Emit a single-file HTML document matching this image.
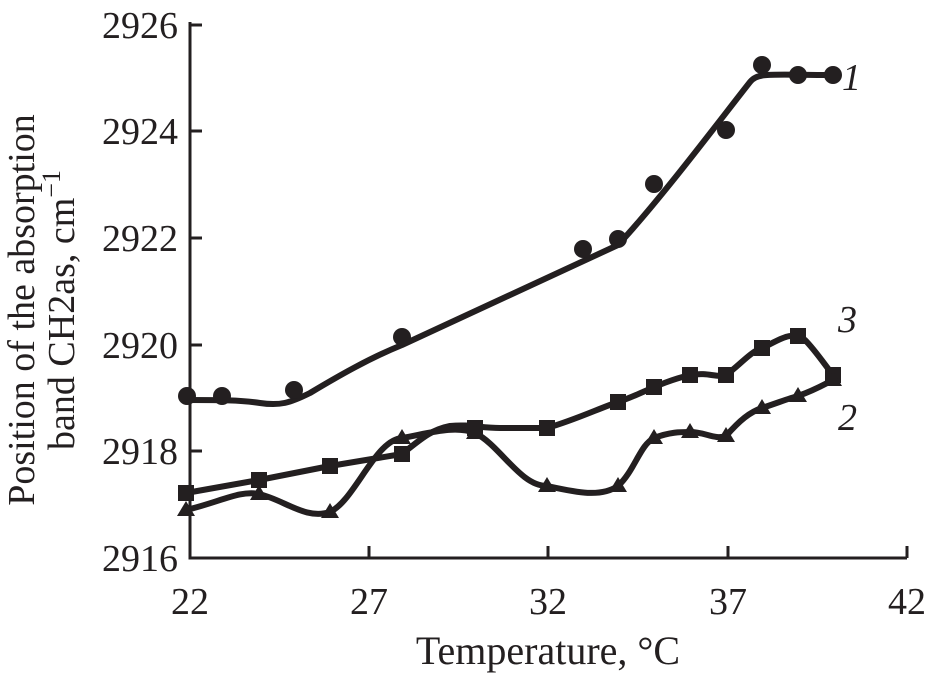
<!DOCTYPE html>
<html><head><style>body{margin:0;background:#fff}</style></head><body>
<svg width="930" height="674" xmlns="http://www.w3.org/2000/svg" font-family="Liberation Serif, serif" fill="#231f20">
<g stroke="#231f20" stroke-width="3" fill="none">
<path d="M190 22 V558 H907"/>
<path d="M190 451h12M190 345h12M190 238h12M190 131h12M190 25h12"/>
<path d="M369 558v-12M548 558v-12M728 558v-12M907 558v-12"/>
</g>
<g font-size="38" text-anchor="end">
<text x="178" y="571">2916</text><text x="178" y="464">2918</text><text x="178" y="358">2920</text>
<text x="178" y="251">2922</text><text x="178" y="144">2924</text><text x="178" y="38">2926</text>
</g>
<g font-size="38" text-anchor="middle">
<text x="190" y="614">22</text><text x="369" y="614">27</text><text x="548" y="614">32</text>
<text x="728" y="614">37</text><text x="907" y="614">42</text>
<text x="548" y="664" font-size="40">Temperature, °C</text>
</g>
<g font-size="38" text-anchor="middle">
<text transform="translate(34,310) rotate(-90)">Position of the absorption</text>
<text transform="translate(74,310) rotate(-90)">band CH2as, cm<tspan dy="-14" font-size="26">−1</tspan></text>
</g>
<g font-size="38" font-style="italic">
<text x="842" y="90">1</text><text x="838" y="332">3</text><text x="838" y="430">2</text>
</g>
<g stroke="#231f20" stroke-width="6" fill="none" stroke-linejoin="round">
<path d="M188 400 C220 400 240 400 260 403 C280 406 290 403 310 393 C340 375 370 358 402 345 L618 245 C660 200 720 120 750 82 C758 72 770 75 833 75"/>
<path d="M186 493 L259 480 L330 466 L402 454 C420 440 430 430 450 426 C470 424 480 428 500 428 L547 428 C575 420 600 408 618 402 C640 395 660 382 690 375 C710 372 715 378 726 375 C740 365 750 352 762 348 C780 340 790 330 805 340 C815 350 825 365 833 375"/>
<path d="M186 510 C220 502 240 490 259 494 C285 500 305 520 330 512 C355 500 375 440 402 438 C430 433 455 425 475 433 C500 445 520 486 547 486 C575 492 600 498 618 486 C635 470 640 445 654 438 C670 432 680 432 690 432 C705 432 715 440 726 436 C740 420 750 412 762 408 C780 402 790 398 798 396 C815 390 825 384 833 380"/>
</g>
<g>
<circle cx="187" cy="396" r="9"/><circle cx="222" cy="396" r="9"/><circle cx="294" cy="390" r="9"/><circle cx="402" cy="337" r="9"/><circle cx="583" cy="249" r="9"/><circle cx="618" cy="239" r="9"/><circle cx="654" cy="184" r="9"/><circle cx="726" cy="130" r="9"/><circle cx="762" cy="65" r="9"/><circle cx="798" cy="75" r="9"/><circle cx="833" cy="75" r="9"/>
</g>
<g>
<rect x="178" y="485" width="16" height="16"/><rect x="251" y="472" width="16" height="16"/><rect x="322" y="458" width="16" height="16"/><rect x="394" y="446" width="16" height="16"/><rect x="467" y="420" width="16" height="16"/><rect x="539" y="420" width="16" height="16"/><rect x="610" y="394" width="16" height="16"/><rect x="646" y="379" width="16" height="16"/><rect x="682" y="367" width="16" height="16"/><rect x="718" y="367" width="16" height="16"/><rect x="754" y="340" width="16" height="16"/><rect x="790" y="328" width="16" height="16"/><rect x="825" y="367" width="16" height="16"/>
</g>
<g>
<path d="M186 501l9 15h-18z"/><path d="M259 485l9 15h-18z"/><path d="M330 503l9 15h-18z"/><path d="M402 429l9 15h-18z"/><path d="M475 424l9 15h-18z"/><path d="M547 477l9 15h-18z"/><path d="M618 477l9 15h-18z"/><path d="M654 429l9 15h-18z"/><path d="M690 423l9 15h-18z"/><path d="M726 427l9 15h-18z"/><path d="M762 399l9 15h-18z"/><path d="M798 387l9 15h-18z"/><path d="M833 371l9 15h-18z"/>
</g>
</svg>
</body></html>
